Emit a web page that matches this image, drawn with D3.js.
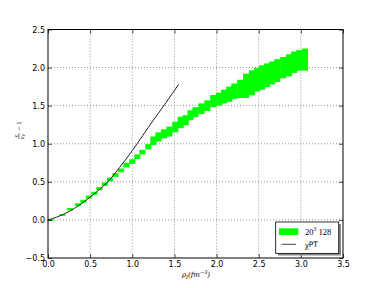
<!DOCTYPE html>
<html><head><meta charset="utf-8">
<script src="https://cdn.jsdelivr.net/npm/d3@7"></script>
<style>body{margin:0;background:#fff}svg{display:block}</style>
</head><body>
<svg id="c" width="382" height="288"></svg>
<script>
// Lattice data (20^3, 128): density, value, half-width errors
const rho = [0.03,0.17,0.26,0.355,0.42,0.485,0.55,0.61,0.675,0.735,0.80,0.865,0.93,1.00,1.06,1.12,1.19,1.25,1.31,1.375,1.44,1.51,1.575,1.635,1.69,1.75,1.82,1.89,1.96,2.03,2.09,2.15,2.21,2.28,2.35,2.42,2.48,2.54,2.60,2.66,2.72,2.79,2.86,2.92,2.98,3.05];
const val = [0.0,0.065,0.14,0.20,0.245,0.30,0.35,0.41,0.47,0.53,0.59,0.65,0.72,0.766,0.83,0.89,0.96,1.04,1.09,1.13,1.16,1.22,1.28,1.31,1.375,1.415,1.46,1.50,1.56,1.585,1.62,1.65,1.69,1.72,1.76,1.80,1.84,1.87,1.90,1.93,1.96,2.0,2.03,2.07,2.095,2.105];
const valErr = [0.012,0.012,0.015,0.018,0.02,0.02,0.02,0.022,0.022,0.025,0.025,0.025,0.03,0.03,0.03,0.03,0.035,0.055,0.06,0.06,0.065,0.07,0.075,0.065,0.065,0.065,0.07,0.07,0.08,0.085,0.09,0.10,0.10,0.12,0.16,0.165,0.155,0.16,0.155,0.15,0.15,0.14,0.145,0.14,0.135,0.145];
const rhoErr = 0.036;
// Chiral perturbation theory curve
const chptRho = [0,0.1,0.25,0.5,0.75,0.85,1.0,1.25,1.4,1.55];
const chptVal = [0,0.035,0.11,0.30,0.55,0.69,0.91,1.31,1.54,1.78];
const xTicks = [0.0,0.5,1.0,1.5,2.0,2.5,3.0,3.5];
const yTicks = [-0.5,0.0,0.5,1.0,1.5,2.0,2.5];

const svg = d3.select("#c");
const L=48, R=343, T=29.5, B=258;
const x = d3.scaleLinear().domain([0,3.5]).range([L,R]);
const y = d3.scaleLinear().domain([-0.5,2.5]).range([B,T]);

// grid
const g = svg.append("g");
g.selectAll("line.gx").data(xTicks.slice(1,-1)).join("line")
 .attr("x1",d=>x(d)).attr("x2",d=>x(d)).attr("y1",T).attr("y2",B)
 .attr("stroke","#666").attr("stroke-width",0.7).attr("stroke-dasharray","1,2");
g.selectAll("line.gy").data(yTicks.slice(1,-1)).join("line")
 .attr("y1",d=>y(d)).attr("y2",d=>y(d)).attr("x1",L).attr("x2",R)
 .attr("stroke","#666").attr("stroke-width",0.7).attr("stroke-dasharray","1,2");

// data boxes
svg.append("g").selectAll("rect").data(rho.map((r,i)=>({r,v:val[i],e:valErr[i]}))).join("rect")
 .attr("x",d=>x(d.r-rhoErr)).attr("width",d=>x(d.r+rhoErr)-x(d.r-rhoErr))
 .attr("y",d=>y(d.v+d.e)).attr("height",d=>y(d.v-d.e)-y(d.v+d.e))
 .attr("fill","#00ff00");

// ChPT line
svg.append("path").datum(chptRho.map((r,i)=>[r,chptVal[i]]))
 .attr("d",d3.line().x(d=>x(d[0])).y(d=>y(d[1])).curve(d3.curveMonotoneX))
 .attr("fill","none").attr("stroke","#222").attr("stroke-width",1);

// frame
svg.append("rect").attr("x",L).attr("y",T).attr("width",R-L).attr("height",B-T)
 .attr("fill","none").attr("stroke","#000").attr("stroke-width",1);

// axes
const ax = svg.append("g").attr("transform",`translate(0,${B})`)
 .call(d3.axisBottom(x).tickValues(xTicks).tickFormat(d3.format(".1f")).tickSize(-4).tickPadding(3));
const ay = svg.append("g").attr("transform",`translate(${L},0)`)
 .call(d3.axisLeft(y).tickValues(yTicks).tickFormat(d=>d3.format(".1f")(d).replace("-","\u2212")).tickSize(-4).tickPadding(3));
const axT = svg.append("g").attr("transform",`translate(0,${T})`)
 .call(d3.axisTop(x).tickValues(xTicks).tickFormat("").tickSize(-4));
const ayR = svg.append("g").attr("transform",`translate(${R},0)`)
 .call(d3.axisRight(y).tickValues(yTicks).tickFormat("").tickSize(-4));
[ax,ay,axT,ayR].forEach(a=>{a.select(".domain").remove();
 a.selectAll("text").attr("font-family","DejaVu Sans").attr("font-size",8).attr("fill","#000");
 a.selectAll("line").attr("stroke","#000").attr("stroke-width",0.7);});

// axis labels
svg.append("text").attr("x",196).attr("y",277).attr("text-anchor","middle")
 .attr("font-family","DejaVu Serif").attr("font-size",7).attr("font-style","italic")
 .html('ρ<tspan font-size="5" dy="1.5">I</tspan><tspan dy="-1.5">(fm</tspan><tspan font-size="5" dy="-3">−3</tspan><tspan dy="3">)</tspan>');
const yl = svg.append("g").attr("transform","translate(19,131) rotate(-90)")
 .attr("font-family","DejaVu Serif").attr("font-size",5.5).attr("font-style","italic").attr("fill","#000");
yl.append("text").attr("x",-5).attr("y",-1.5).attr("text-anchor","middle").text("ε");
yl.append("line").attr("x1",-8).attr("x2",-2).attr("y1",0).attr("y2",0).attr("stroke","#000").attr("stroke-width",0.5);
yl.append("text").attr("x",-5.5).attr("y",5).attr("text-anchor","middle").html('ε<tspan font-size="3.5" dy="1">F</tspan>');
yl.append("text").attr("x",0).attr("y",2).attr("font-style","normal").text("− 1");

// legend
const lg = svg.append("g");
lg.append("rect").attr("x",278).attr("y",224).attr("width",63).attr("height",31.5).attr("fill","#888");
lg.append("rect").attr("x",275.7).attr("y",222).attr("width",63).attr("height",31.5)
 .attr("fill","#fff").attr("stroke","#000").attr("stroke-width",0.8);
lg.append("rect").attr("x",279).attr("y",228.3).attr("width",19.3).attr("height",6.7).attr("fill","#00ff00");
lg.append("line").attr("x1",281.7).attr("x2",296).attr("y1",244.3).attr("y2",244.3).attr("stroke","#444").attr("stroke-width",1);
lg.append("text").attr("x",305).attr("y",234.5).attr("font-family","Liberation Serif").attr("font-size",8.5)
 .html('20<tspan font-size="5.5" dy="-3.5">3</tspan><tspan dy="3.5"> 128</tspan>');
lg.append("text").attr("x",305).attr("y",247.5).attr("font-family","Liberation Serif").attr("font-size",8.5)
 .html('χ<tspan font-family="DejaVu Sans" font-size="7.5" dy="-1">PT</tspan>');
</script>
</body></html>
